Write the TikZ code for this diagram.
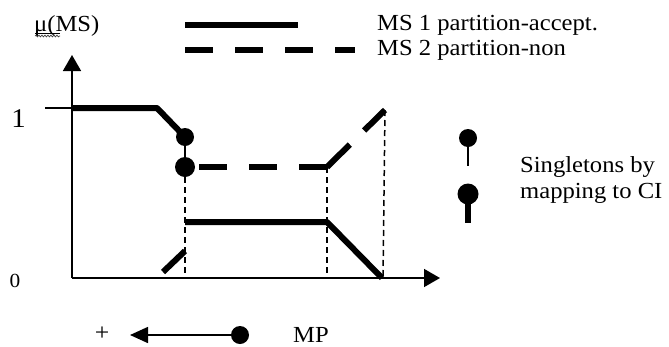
\documentclass[tikz,border=0pt]{standalone}
\usepackage{fontspec}
\setmainfont[FakeStretch=1.07]{Liberation Serif}
\usetikzlibrary{arrows.meta,decorations.pathmorphing}
\begin{document}
\begin{tikzpicture}[x=1pt,y=-1pt,
  thickline/.style={line width=6pt},
  thinline/.style={line width=1.6pt},
  guide/.style={line width=1.5pt, dash pattern=on 6pt off 4pt},
  bigdash/.style={line width=6pt, dash pattern=on 28pt off 22pt},
  dot/.style={circle, fill=black, draw=none, inner sep=0pt, minimum size=#1},
  lbl/.style={font=\fontsize{23}{25}\selectfont, inner sep=0pt, anchor=base west}]
\useasboundingbox (0,0) rectangle (669,346);

% axes
\coordinate (o) at (72,278);
\coordinate (ytip) at (72,55);
\coordinate (xtip) at (440,278);
\draw[thinline, -{Triangle[width=18pt,length=16pt]}] (o) -- (ytip);
\draw[thinline, -{Triangle[width=18pt,length=16pt]}] (o) -- (xtip);
\coordinate (t1a) at (45,108);
\coordinate (t1b) at (72,108);
\draw[thinline] (t1a) -- (t1b);

% axis labels
\node[lbl] (mu) at (34,31) {μ(MS)};
\draw[line width=0.7pt] (35,33) -- (60,33);
\draw[gray!50!black, line width=0.7pt, decorate, decoration={snake, amplitude=0.9pt, segment length=3pt}] (35,36) -- (60,36);
\node[inner sep=0pt, anchor=base, font=\fontsize{27}{29}\selectfont] (one) at (18.5,127) {1};
\node[inner sep=0pt, anchor=base, font=\fontsize{20}{22}\selectfont] (zero) at (15,287) {0};

% MS1 solid curve (upper part)
\node[dot=18pt] (c1) at (185,137) {};
\node[dot=20pt] (c2) at (185,167) {};
\coordinate (p1) at (157,108);
\draw[thickline, line join=round] (t1b) -- (p1) -- (c1.center);
\draw[thinline] (c1) -- (c2);

% MS2 dashed
\coordinate (d1) at (199,167);
\coordinate (d2) at (327,167);
\coordinate (d3) at (385,110);
\draw[bigdash] (d1) -- (d2);
\draw[line width=6pt, dash pattern=on 32pt off 20pt] (d2) -- (d3);
\coordinate (l1) at (163,272);
\coordinate (l2) at (185,251);
\draw[thickline] (l1) -- (l2);

% MS1 lower solid
\coordinate (s1) at (185,222);
\coordinate (s2) at (327,222);
\coordinate (s3) at (382,278);
\draw[thickline, line join=round] (s1) -- (s2) -- (s3);

% vertical guides
\coordinate (g1) at (185,278);
\coordinate (g2) at (327,278);
\coordinate (g3) at (383,278);
\draw[guide] (c2.south) -- (g1);
\draw[guide] (d2) -- (g2);
\draw[guide] (d3) -- (g3);

% legend top
\coordinate (la) at (185,25);
\coordinate (lb) at (298,25);
\draw[thickline] (la) -- (lb);
\coordinate (lc) at (185,50);
\coordinate (ld) at (355,50);
\draw[bigdash] (lc) -- (ld);
\node[lbl] (ms1) at (377,30) {MS 1 partition-accept.};
\node[lbl] (ms2) at (377,55) {MS 2 partition-non};

% singleton legend
\node[dot=18pt] (k1) at (468,138) {};
\coordinate (k1e) at (468,166);
\draw[line width=2pt] (k1) -- (k1e);
\node[dot=21pt] (k2) at (468,194) {};
\coordinate (k2e) at (468,223);
\draw[line width=6.5pt] (k2.center) -- (k2e);
\node[lbl] (sg1) at (520,172) {Singletons by};
\node[lbl] (sg2) at (520,198) {mapping to CI};

% MP arrow
\node[dot=18pt] (mp) at (240,335) {};
\coordinate (atip) at (130,335);
\draw[thinline, -{Triangle[width=16pt,length=18pt]}] (mp) -- (atip);
\node[inner sep=0pt, anchor=center, font=\fontsize{24}{26}\selectfont] (plus) at (102,334) {+};
\node[lbl] (mpl) at (293,342) {MP};
\end{tikzpicture}
\end{document}
